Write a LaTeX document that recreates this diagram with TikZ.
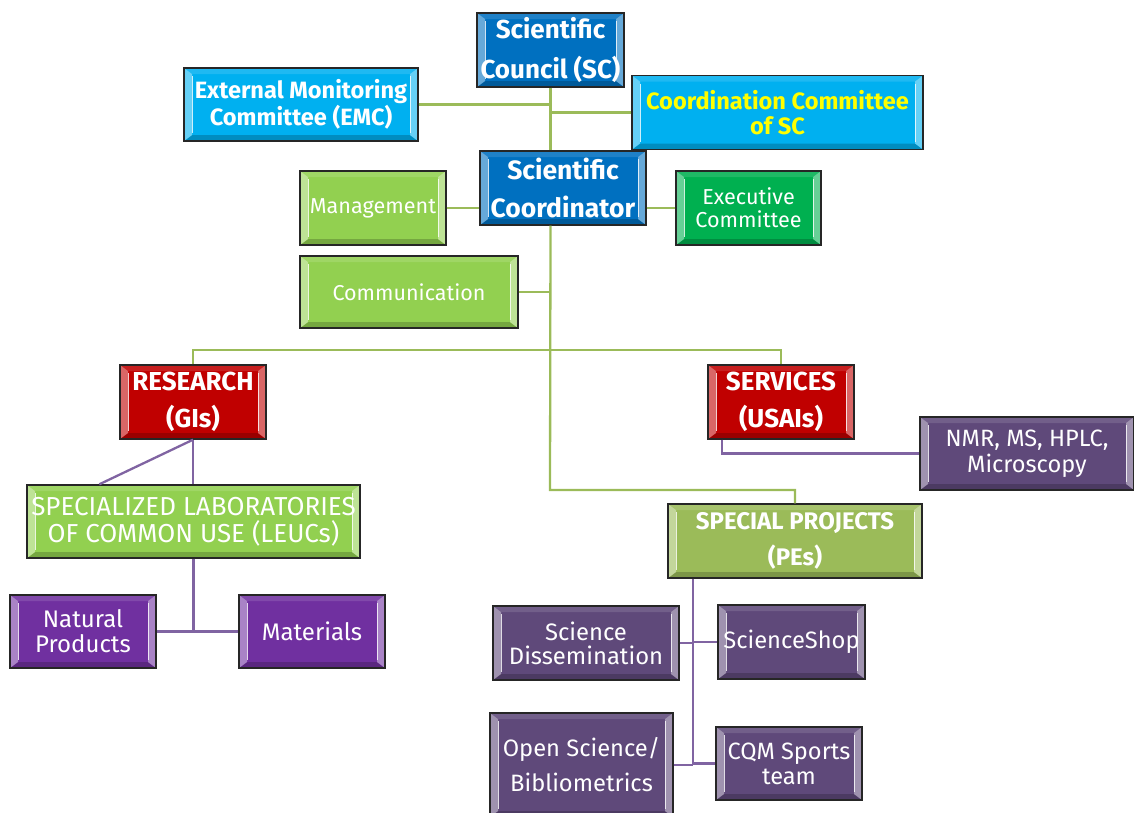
\documentclass[tikz,border=0pt]{standalone}
\usepackage{fontspec}
\setmainfont{Fira Sans}
\definecolor{dblue}{HTML}{0070C0}
\definecolor{lblue}{HTML}{00B0F0}
\definecolor{lgreen}{HTML}{92D050}
\definecolor{mgreen}{HTML}{00B050}
\definecolor{dred}{HTML}{C00000}
\definecolor{olive}{HTML}{9BBB59}
\definecolor{violet}{HTML}{7030A0}
\definecolor{gpurple}{HTML}{5F497A}
\definecolor{cgreen}{HTML}{9BBB59}
\definecolor{cpurple}{HTML}{8064A2}
\definecolor{yell}{HTML}{FFFF00}
\tikzset{
  bev/.style={path picture={
    \fill[#1!88!white] (path picture bounding box.north west) -- (path picture bounding box.north east)
      -- ([shift={(-8pt,-6pt)}]path picture bounding box.north east) -- ([shift={(8pt,-6pt)}]path picture bounding box.north west) -- cycle;
    \fill[#1!80!black] (path picture bounding box.south west) -- (path picture bounding box.south east)
      -- ([shift={(-8pt,6pt)}]path picture bounding box.south east) -- ([shift={(8pt,6pt)}]path picture bounding box.south west) -- cycle;
    \fill[#1!60!white] (path picture bounding box.south west) -- (path picture bounding box.north west)
      -- ([shift={(8pt,-6pt)}]path picture bounding box.north west) -- ([shift={(8pt,6pt)}]path picture bounding box.south west) -- cycle;
    \fill[#1!60!white] (path picture bounding box.south east) -- (path picture bounding box.north east)
      -- ([shift={(-8pt,-6pt)}]path picture bounding box.north east) -- ([shift={(-8pt,6pt)}]path picture bounding box.south east) -- cycle;
    \draw[white, line width=1pt, opacity=0.8] ([shift={(8pt,-8pt)}]path picture bounding box.north west) -- ([shift={(8pt,8pt)}]path picture bounding box.south west);
    \draw[white, line width=1pt, opacity=0.8] ([shift={(-8pt,-8pt)}]path picture bounding box.north east) -- ([shift={(-8pt,8pt)}]path picture bounding box.south east);
  }},
  box/.style={draw=black!85, line width=1.4pt, fill=#1, bev=#1, inner sep=0pt,
    align=center, text=white},
  gline/.style={draw=cgreen, line width=2.3pt},
  pline/.style={draw=cpurple, line width=2.3pt},
}
\newcommand{\fs}[2]{\fontsize{#1}{#2}\selectfont}
\begin{document}
\begin{tikzpicture}[x=1pt,y=-1pt]
\useasboundingbox (0,0) rectangle (1134,812);
% nodes
\node[box=dblue, minimum width=147, minimum height=74, font=\fs{26}{40}\bfseries] (SC) at (550.5,50) {Scientific\\Council (SC)};
\node[box=lblue, minimum width=234, minimum height=73, font=\fs{23.6}{25}\bfseries] (EMC) at (301,104.5) {External Monitoring\\Committee (EMC)};
\node[box=lblue, minimum width=291, minimum height=74, font=\fs{23.6}{25}\bfseries, text=yell] (CC) at (777.5,112.5) {Coordination Committee\\of SC};
\node[box=dblue, minimum width=166, minimum height=74, font=\fs{26.5}{38}\bfseries] (SCo) at (563,188) {Scientific\\Coordinator};
\node[box=lgreen, minimum width=146, minimum height=74, font=\fs{21.6}{23}] (Mgmt) at (373,208) {Management};
\node[box=mgreen, minimum width=145, minimum height=74, font=\fs{21.6}{23}] (Exec) at (748.5,208) {Executive\\Committee};
\node[box=lgreen, minimum width=218, minimum height=72, font=\fs{21.5}{23}] (Comm) at (409,292) {Communication};
\node[box=dred, minimum width=146, minimum height=74, font=\fs{26}{37}\bfseries] (RES) at (193,402) {RESEARCH\\(GIs)};
\node[box=dred, minimum width=146, minimum height=74, font=\fs{26}{37}\bfseries] (SERV) at (781,402) {SERVICES\\(USAIs)};
\node[box=gpurple, minimum width=214, minimum height=73, font=\fs{23.6}{26}] (NMR) at (1027,453.5) {NMR, MS, HPLC,\\Microscopy};
\node[box=lgreen, minimum width=333, minimum height=73, font=\fs{26}{27}] (LEUC) at (193.5,521.5) {SPECIALIZED LABORATORIES\\OF COMMON USE (LEUCs)};
\node[box=olive, minimum width=254, minimum height=74, font=\fs{24}{36}\bfseries] (PE) at (795,541) {SPECIAL PROJECTS\\(PEs)};
\node[box=violet, minimum width=146, minimum height=73, font=\fs{24}{25}] (NP) at (83,631.5) {Natural\\Products};
\node[box=violet, minimum width=146, minimum height=73, font=\fs{24}{25}] (Mat) at (312,631.5) {Materials};
\node[box=gpurple, minimum width=186, minimum height=74, font=\fs{23.8}{24}] (SD) at (586,643) {Science\\Dissemination};
\node[box=gpurple, minimum width=147, minimum height=74, font=\fs{23.7}{25}] (SS) at (791.5,642) {ScienceShop};
\node[box=gpurple, minimum width=183, minimum height=104, font=\fs{23.7}{35}] (OS) at (581.5,765) {Open Science/\\Bibliometrics};
\node[box=gpurple, minimum width=146, minimum height=73, font=\fs{23.6}{25}] (CQM) at (789,763.5) {CQM Sports\\team};
% coordinates
\coordinate (t1) at (550,350);
\coordinate (t2) at (550,490);
\coordinate (pe1) at ([xshift=26pt]PE.south west);
\coordinate (sv1) at ([xshift=15pt]SERV.south west);
\coordinate (dg) at ([xshift=73pt]LEUC.north west);
% green connectors
\draw[gline] (SC.south) -- (SC.south |- SCo.north);
\draw[gline] (SC.south |- SCo.south) -- (t2) -| (PE.north);
\draw[gline] (RES.north) |- (t1) -| (SERV.north);
\draw[gline] (EMC.east) -- (EMC.east -| SC.south);
\draw[gline] (CC.west) -- (CC.west -| SC.south);
\draw[gline] (Mgmt.east) -- (Mgmt.east -| SCo.west);
\draw[gline] (SCo.east |- Exec.west) -- (Exec.west);
\draw[gline] (Comm.east) -- (Comm.east -| t1);
% purple connectors
\draw[pline] (RES.south) -- (RES.south |- LEUC.north);
\draw[pline] (RES.south) -- (dg);
\draw[pline] (LEUC.south) -- (LEUC.south |- NP.east);
\draw[pline] (NP.east) -- (Mat.west);
\draw[pline] (sv1) |- (NMR.west);
\draw[pline] (pe1) -- (pe1 |- OS.east);
\draw[pline] (SD.east) -- (SD.east -| pe1);
\draw[pline] (pe1 |- SS.west) -- (SS.west);
\draw[pline] (OS.east) -- (OS.east -| pe1);
\draw[pline] (pe1 |- CQM.west) -- (CQM.west);
\end{tikzpicture}
\end{document}
